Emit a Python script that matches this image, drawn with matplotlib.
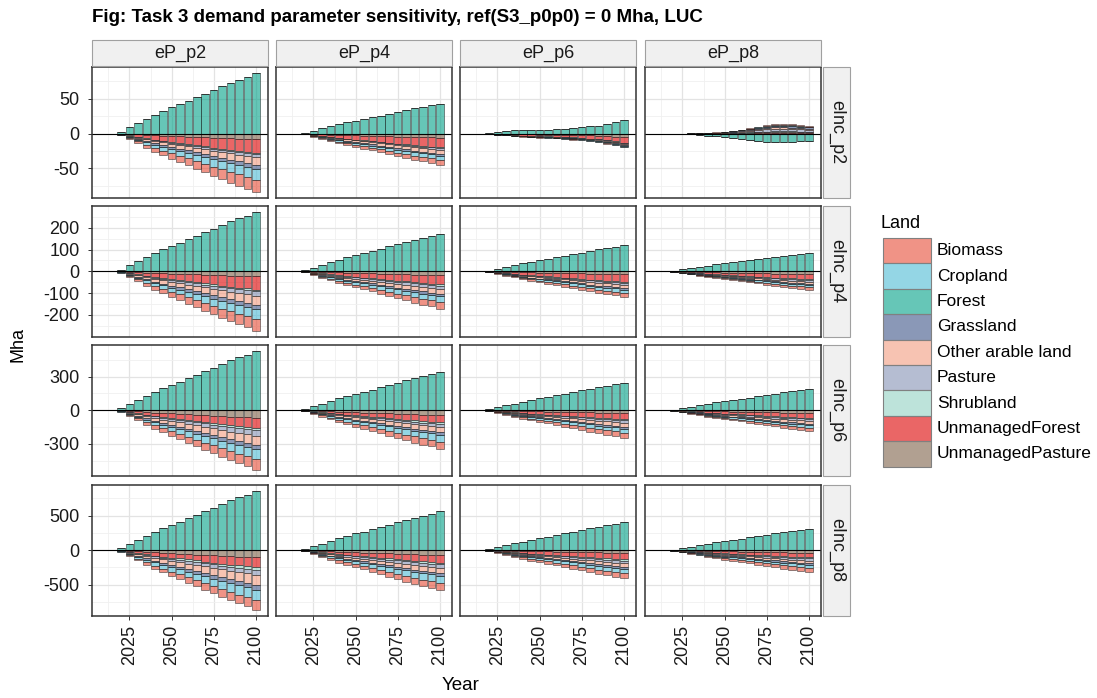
import numpy as np
import matplotlib.pyplot as plt
from matplotlib.patches import Rectangle
from matplotlib.colors import to_rgba

plt.rcParams['font.family'] = ['Liberation Sans', 'DejaVu Sans']

# Facets
ep_levels = ["eP_p2", "eP_p4", "eP_p6", "eP_p8"]
einc_levels = ["eInc_p2", "eInc_p4", "eInc_p6", "eInc_p8"]
years = list(range(2010, 2101, 5))

land_types = ["Biomass", "Cropland", "Forest", "Grassland", "Other arable land",
              "Pasture", "Shrubland", "UnmanagedForest", "UnmanagedPasture"]
land_colors = ["#E64B35", "#4DBBD5", "#00A087", "#3C5488", "#F39B7F",
               "#8491B4", "#91D1C2", "#DC0000", "#7E6148"]

# Change in 2100 (Mha), rows = eInc_p2..p8, cols = eP_p2..p8
biomass_2100 = [[-18, -7, -1, 1], [-55, -30, -18, -11], [-97, -65, -44, -26], [-143, -105, -71, -57]]
cropland_2100 = [[-15, -6, -1.5, 1], [-45, -27, -16, -10], [-88, -62, -38, -24], [-152, -105, -67, -48]]
forest_2100 = [[87, 43, 20, -11.3], [273, 173, 120, 85], [529, 341, 247, 188], [857, 562, 405, 310]]
grassland_2100 = [[-6, -3, -1, 2], [-22, -11, -6, -6], [-41, -20, -18, -15], [-71, -38, -29, -24]]
otherarable_2100 = [[-11, -6, -1.5, 1.5], [-40, -23, -15, -9], [-82, -50, -35, -24], [-143, -81, -48, -38]]
pasture_2100 = [[-4, -2, -1.5, 3], [-20, -15, -10, -8], [-47, -24, -20, -18], [-71, -48, -38, -33]]
shrubland_2100 = [[-2, -1, -0.5, 0.5], [-9, -6, -4, -4], [-18, -15, -9, -9], [-38, -24, -19, -14]]
unmanagedforest_2100 = [[-20, -14, -8, 1], [-60, -42, -35, -23], [-94, -65, -56, -44], [-143, -110, -95, -67]]
unmanagedpasture_2100 = [[-8, -6, -5, 1], [-24, -18, -14, -14], [-68, -44, -26, -26], [-105, -71, -38, -38]]

values_2100 = [biomass_2100, cropland_2100, forest_2100, grassland_2100, otherarable_2100,
               pasture_2100, shrubland_2100, unmanagedforest_2100, unmanagedpasture_2100]

# Path over time relative to the 2100 value
path_default = [0, 0, 0.03, 0.10, 0.17, 0.24, 0.31, 0.37, 0.43, 0.48,
                0.54, 0.60, 0.66, 0.72, 0.78, 0.84, 0.89, 0.94, 1.0]
path_p6_forest = [0, 0, 0.03, 0.10, 0.15, 0.22, 0.25, 0.27, 0.27, 0.27,
                  0.30, 0.35, 0.42, 0.47, 0.54, 0.57, 0.65, 0.80, 1.0]
path_p6_other = [0, 0, 0.03, 0.10, 0.14, 0.18, 0.22, 0.26, 0.29, 0.32,
                 0.35, 0.39, 0.43, 0.48, 0.55, 0.62, 0.72, 0.85, 1.0]
path_p8_forest = [0, 0, 0, 0.04, 0.09, 0.17, 0.26, 0.35, 0.48, 0.61,
                  0.74, 0.87, 0.96, 1.04, 1.09, 1.09, 1.04, 1.0, 1.0]
path_p8_other = [0, 0, 0, 0, 0.02, 0.05, 0.10, 0.14, 0.24, 0.38,
                 0.52, 0.71, 0.90, 1.10, 1.24, 1.24, 1.19, 1.10, 1.0]
special_paths = {(0, 2): (path_p6_forest, path_p6_other),
                 (0, 3): (path_p8_forest, path_p8_other)}

# Axis breaks per row (free y scale)
row_breaks = [[-50, 0, 50], [-200, -100, 0, 100, 200], [-300, 0, 300], [-500, 0, 500]]
x_breaks = [2025, 2050, 2075, 2100]

W, H = 1097, 698
fig = plt.figure(figsize=(W / 100, H / 100), dpi=100)

col_left = [92, 276, 460, 645]
panel_w = 176
row_top = [67, 206, 345, 485]
panel_h = 131


def px_axes(left, top, width, height):
    return fig.add_axes([left / W, 1 - (top + height) / H, width / W, height / H])


def panel_values(r, c):
    fp, op = special_paths.get((r, c), (path_default, path_default))
    out = []
    for k, land in enumerate(land_types):
        path = fp if land == "Forest" else op
        out.append(np.array(path) * values_2100[k][r][c])
    return np.array(out)


# stacking: last legend level sits next to zero
stack_order = list(range(len(land_types)))[::-1]
edge = (0.1, 0.1, 0.1, 0.6)

for r in range(4):
    # y limits shared along the row, ggplot style 5% expansion
    lo, hi = 0, 0
    for c in range(4):
        v = panel_values(r, c)
        lo = min(lo, np.where(v < 0, v, 0).sum(axis=0).min())
        hi = max(hi, np.where(v > 0, v, 0).sum(axis=0).max())
    pad = (hi - lo) * 0.05
    for c in range(4):
        ax = px_axes(col_left[c], row_top[r], panel_w, panel_h)
        v = panel_values(r, c)
        pos_base = np.zeros(len(years))
        neg_base = np.zeros(len(years))
        for k in stack_order:
            vals = v[k]
            pos = np.where(vals > 0, vals, 0)
            neg = np.where(vals < 0, vals, 0)
            fc = to_rgba(land_colors[k], 0.6)
            ax.bar(years, pos, bottom=pos_base, width=4.5, color=fc,
                   edgecolor=edge, linewidth=0.55, zorder=3)
            ax.bar(years, neg, bottom=neg_base, width=4.5, color=fc,
                   edgecolor=edge, linewidth=0.55, zorder=3)
            pos_base += pos
            neg_base += neg
        ax.axhline(0, color="black", linewidth=0.8, zorder=4)
        ax.set_xlim(2002.75, 2107.25)
        ax.set_ylim(lo - pad, hi + pad)
        br = row_breaks[r]
        ax.set_yticks(br)
        ax.set_yticks([(a + b) / 2 for a, b in zip(br[:-1], br[1:])]
                      + [br[0] - (br[1] - br[0]) / 2, br[-1] + (br[1] - br[0]) / 2], minor=True)
        ax.set_xticks(x_breaks)
        ax.set_xticks([2012.5, 2037.5, 2062.5, 2087.5], minor=True)
        ax.grid(True, which="major", color="#E3E3E3", linewidth=0.9, zorder=0)
        ax.grid(True, which="minor", color="#F0F0F0", linewidth=0.6, zorder=0)
        ax.set_axisbelow(True)
        ax.tick_params(which="minor", length=0)
        ax.tick_params(which="major", length=3, width=0.7, color="#333333",
                       labelsize=13, labelcolor="#1A1A1A")
        ax.tick_params(axis="y", pad=6)
        ax.tick_params(axis="x", pad=3.5)
        if c == 0:
            ax.set_yticklabels([str(b) for b in br])
        else:
            ax.tick_params(axis="y", which="major", length=0, labelleft=False)
        if r == 3:
            ax.set_xticklabels([str(b) for b in x_breaks], rotation=90)
        else:
            ax.tick_params(axis="x", which="major", length=0, labelbottom=False)
        for s in ax.spines.values():
            s.set_color("#333333")
            s.set_linewidth(1.1)
            s.set_zorder(5)

# strips
strip_fc, strip_ec = "#F0F0F0", "#A0A0A0"
for c, lab in enumerate(ep_levels):
    fig.patches.append(Rectangle(((col_left[c]) / W, 1 - 66 / H), panel_w / W, 26 / H,
                                 transform=fig.transFigure, facecolor=strip_fc,
                                 edgecolor=strip_ec, linewidth=0.8))
    fig.text((col_left[c] + panel_w / 2) / W, 1 - 53 / H, lab, ha="center", va="center",
             fontsize=13, color="#1A1A1A")
for r, lab in enumerate(einc_levels):
    fig.patches.append(Rectangle((823 / W, 1 - (row_top[r] + panel_h) / H), 27 / W, panel_h / H,
                                 transform=fig.transFigure, facecolor=strip_fc,
                                 edgecolor=strip_ec, linewidth=0.8))
    fig.text(836.5 / W, 1 - (row_top[r] + panel_h / 2) / H, lab, ha="center", va="center",
             rotation=-90, fontsize=13, color="#1A1A1A")

# titles
fig.text(92 / W, 1 - 17 / H, "Fig: Task 3 demand parameter sensitivity, ref(S3_p0p0) = 0 Mha, LUC",
         ha="left", va="center", fontsize=13.5, fontweight="bold")
fig.text(18 / W, 1 - 345 / H, "Mha", rotation=90, ha="center", va="center", fontsize=13)
fig.text(461 / W, 1 - 686 / H, "Year", ha="center", va="center", fontsize=13.5)

# legend
fig.text(880 / W, 1 - 223 / H, "Land", ha="left", va="center", fontsize=13)
key_h = 25.4
for i, (lab, col) in enumerate(zip(land_types, land_colors)):
    top = 238 + i * key_h
    fig.patches.append(Rectangle((883 / W, 1 - (top + key_h) / H), 48 / W, key_h / H,
                                 transform=fig.transFigure, facecolor=to_rgba(col, 0.6),
                                 edgecolor="#808080", linewidth=0.8))
    fig.text(937 / W, 1 - (top + key_h / 2) / H, lab, ha="left", va="center", fontsize=12.5)

fig.savefig("out.png", dpi=100)
